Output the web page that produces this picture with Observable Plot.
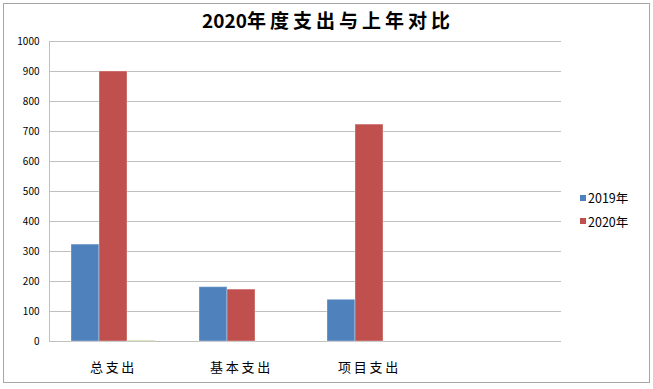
<!DOCTYPE html>
<html><head><meta charset="utf-8">
<script src="https://cdn.jsdelivr.net/npm/d3@7"></script>
<script src="https://cdn.jsdelivr.net/npm/@observablehq/plot@0.6"></script>
<style>
body{margin:0;background:#fff;}
#wrap{position:relative;width:653px;height:389px;font-family:"Noto Sans CJK SC","Noto Sans",sans-serif;overflow:hidden;}
#border{position:absolute;left:3px;top:3px;width:645px;height:378px;border:1px solid #a6a6a6;pointer-events:none;}
#title{position:absolute;left:0;width:656px;top:8px;text-align:center;font-weight:bold;font-size:19px;line-height:24px;color:#000;}
#title .cjk{letter-spacing:4px;}
#chart{position:absolute;left:0;top:0;}
#legend{position:absolute;left:580px;top:186px;font-size:12.5px;line-height:23.6px;color:#000;}
#legend .item{display:flex;align-items:center;}
#legend .sw{width:6px;height:6px;margin-right:2px;}
.cat text{letter-spacing:2.7px;}
</style>
</head><body>
<div id="wrap">
  <div id="chart"></div>
  <div id="title"></div>
  <div id="legend"></div>
  <div id="border"></div>
</div>
<script>
const titleYear = "2020";
const titleText = "年度支出与上年对比";
const categories = ["总支出", "基本支出", "项目支出", " "];
const seriesNames = ["2019年", "2020年", "系列3"];
const legendSeries = ["2019年", "2020年"];
const values2019 = [323, 181, 139];
const values2020 = [900, 173, 723];
const valuesSeries3 = [2, 0, 0];
const seriesColors = ["#4f81bd", "#c0504d", "#9bbb59"];
const yTicks = [0, 100, 200, 300, 400, 500, 600, 700, 800, 900, 1000];

const seriesValues = [values2019, values2020, valuesSeries3];
const rows = [];
seriesNames.forEach((s, si) => {
  seriesValues[si].forEach((v, ci) => rows.push({category: categories[ci], series: s, value: v}));
});
const gridRows = categories.flatMap(c => yTicks.map(t => ({category: c, tick: t})));

const title = document.getElementById("title");
title.innerHTML = titleYear + '<span class="cjk">' + titleText + '</span>';

const plot = Plot.plot({
  width: 653,
  height: 389,
  marginLeft: 48,
  marginRight: 91,
  marginTop: 41,
  marginBottom: 48,
  style: {fontFamily: '"Noto Sans CJK SC","Noto Sans",sans-serif', background: "transparent", overflow: "visible"},
  fx: {domain: categories, padding: 0, label: null},
  x: {domain: seriesNames, paddingInner: 0, paddingOuter: 0.75, axis: null},
  y: {domain: [0, 1000], ticks: yTicks, label: null},
  color: {domain: seriesNames, range: seriesColors},
  marks: [
    Plot.ruleY(gridRows, {fx: "category", y: "tick", stroke: "#bfbfbf", strokeWidth: 1}),
    Plot.frame({anchor: "left", facetAnchor: "left", stroke: "#bfbfbf"}),
    Plot.barY(rows, {fx: "category", x: "series", y: "value", fill: "series", stroke: "#ffffff", strokeOpacity: 0.35, strokeWidth: 1}),
    Plot.axisY(yTicks, {anchor: "left", tickSize: 0, tickPadding: 10, fontSize: 10, label: null, fill: "#000", tickFormat: d3.format("d")}),
    Plot.axisFx({anchor: "bottom", tickSize: 0, tickPadding: 21, fontSize: 13, label: null, className: "cat", fill: "#000"})
  ]
});
document.getElementById("chart").appendChild(plot);

const legend = document.getElementById("legend");
legendSeries.forEach(s => {
  const item = document.createElement("div");
  item.className = "item";
  const sw = document.createElement("span");
  sw.className = "sw";
  sw.style.background = seriesColors[seriesNames.indexOf(s)];
  const t = document.createElement("span");
  t.textContent = s;
  item.appendChild(sw);
  item.appendChild(t);
  legend.appendChild(item);
});
</script>
</body></html>
